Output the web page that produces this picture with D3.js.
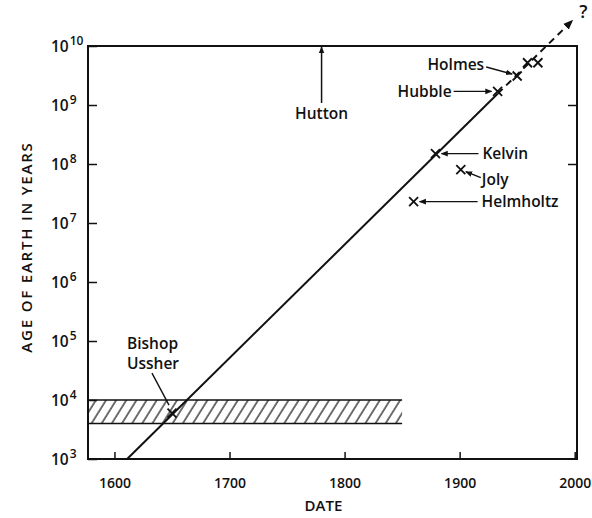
<!DOCTYPE html>
<html><head><meta charset="utf-8">
<script src="https://cdn.jsdelivr.net/npm/d3@7"></script>
<style>
body{margin:0;background:#fff}
text{font-family:"Open Sans","DejaVu Sans",sans-serif;fill:#111;font-weight:600}
</style>
</head><body>
<svg id="c" width="592" height="518"></svg>
<script>
// ---- data ----
const estimateNames = ["Bishop Ussher", "Helmholtz", "Kelvin", "Joly", "Hubble", "Holmes", "", ""];
const estimateYears = [1650, 1860, 1879, 1901, 1933, 1950, 1959, 1968];
const estimateAges  = [6000, 2.3e7, 1.5e8, 8e7, 1.7e9, 3.1e9, 5.2e9, 5.2e9];
const trendYears = [1611, 1933, 1998];
const trendAges  = [1e3, 1.55e9, 2.7e10];
const ussherBandYears = [1577, 1850];
const ussherBandAges  = [4000, 1e4];
const huttonYear = 1780;
const huttonAges = [1.08e9, 1e10];
const xTickValues = [1600, 1700, 1800, 1900, 2000];
const yTickExponents = [3, 4, 5, 6, 7, 8, 9, 10];
const rightTickExponents = [8, 9];

// ---- layout ----
const svg = d3.select("#c");
const x = d3.scaleLinear().domain([1577, 2002]).range([88, 577]);
const y = d3.scaleLog().domain([1e3, 1e10]).range([459, 46]);
const ink = "#111";

const defs = svg.append("defs");
defs.append("pattern").attr("id", "hatch").attr("patternUnits", "userSpaceOnUse")
  .attr("width", 8.6).attr("height", 20).attr("patternTransform", "rotate(32)")
  .append("line").attr("x1", 1).attr("y1", 0).attr("x2", 1).attr("y2", 20)
  .attr("stroke", ink).attr("stroke-width", 1.2);
defs.append("marker").attr("id", "ah").attr("viewBox", "0 0 10 10")
  .attr("refX", 9).attr("refY", 5).attr("markerWidth", 7).attr("markerHeight", 7)
  .attr("markerUnits", "userSpaceOnUse").attr("orient", "auto")
  .append("path").attr("d", "M0,1 L10,5 L0,9 Z").attr("fill", ink);
defs.append("marker").attr("id", "ahBig").attr("viewBox", "0 0 10 10")
  .attr("refX", 9).attr("refY", 5).attr("markerWidth", 10).attr("markerHeight", 10)
  .attr("markerUnits", "userSpaceOnUse").attr("orient", "auto")
  .append("path").attr("d", "M0,1 L10,5 L0,9 Z").attr("fill", ink);

// Ussher band
const bx0 = x(ussherBandYears[0]), bx1 = x(ussherBandYears[1]);
const by0 = y(ussherBandAges[1]), by1 = y(ussherBandAges[0]);
svg.append("rect").attr("x", bx0).attr("y", by0).attr("width", bx1 - bx0).attr("height", by1 - by0)
  .attr("fill", "url(#hatch)");
[by0, by1].forEach(v => svg.append("line").attr("x1", bx0).attr("x2", bx1).attr("y1", v).attr("y2", v)
  .attr("stroke", ink).attr("stroke-width", 1.6));

// frame
const [X0, X1] = x.range(), [Y0, Y1] = [y(1e3), y(1e10)];
svg.append("path").attr("d", `M${X0},${Y0} L${X0},${Y1} L${X1},${Y1} L${X1},${Y0} Z`)
  .attr("fill", "none").attr("stroke", ink).attr("stroke-width", 2);

// axes
const xAxis = d3.axisBottom(x).tickValues(xTickValues).tickSize(-7).tickPadding(19).tickFormat(d3.format("d"));
const gx = svg.append("g").attr("transform", `translate(0,${Y0})`).call(xAxis);
gx.select(".domain").remove();
gx.selectAll("line").attr("stroke", ink).attr("stroke-width", 1.5);
gx.selectAll("text").attr("font-size", 14).attr("fill", ink)
  .style("font-family", "'Open Sans',sans-serif").style("font-weight", 600);

const yAxis = d3.axisLeft(y).tickValues(yTickExponents.map(e => Math.pow(10, e))).tickSize(-9).tickFormat("");
const gy = svg.append("g").attr("transform", `translate(${X0},0)`).call(yAxis);
gy.select(".domain").remove();
gy.selectAll("line").attr("stroke", ink).attr("stroke-width", 1.5);
gy.selectAll(".tick").each(function(d) {
  const t = d3.select(this).append("text").attr("x", -37).attr("dy", "0.35em")
    .attr("text-anchor", "start").attr("font-size", 15.5).attr("fill", ink);
  t.append("tspan").text("10");
  t.append("tspan").attr("dy", "-0.6em").attr("dx", "1").attr("font-size", 12).text(Math.round(Math.log10(d)));
});
const yAxisR = d3.axisRight(y).tickValues(rightTickExponents.map(e => Math.pow(10, e))).tickSize(-9).tickFormat("");
const gyr = svg.append("g").attr("transform", `translate(${X1},0)`).call(yAxisR);
gyr.select(".domain").remove();
gyr.selectAll("line").attr("stroke", ink).attr("stroke-width", 1.5);

// axis titles
svg.append("text").attr("x", (X0 + X1) / 2 - 9).attr("y", 511).attr("text-anchor", "middle")
  .attr("font-size", 15).text("DATE");
svg.append("text").attr("transform", `translate(32,247) rotate(-90)`).attr("text-anchor", "middle")
  .attr("font-size", 15).attr("letter-spacing", 1.8).text("AGE OF EARTH IN YEARS");

// trend line: solid then dashed with arrow
const tp = trendYears.map((d, i) => [x(d), y(trendAges[i])]);
svg.append("line").attr("x1", tp[0][0]).attr("y1", tp[0][1]).attr("x2", tp[1][0]).attr("y2", tp[1][1])
  .attr("stroke", ink).attr("stroke-width", 2);
svg.append("line").attr("x1", tp[1][0]).attr("y1", tp[1][1]).attr("x2", tp[2][0]).attr("y2", tp[2][1])
  .attr("stroke", ink).attr("stroke-width", 2).attr("stroke-dasharray", "7,5")
  .attr("marker-end", "url(#ahBig)");
svg.append("text").attr("x", tp[2][0] + 11).attr("y", tp[2][1] - 3).attr("text-anchor", "middle")
  .attr("font-size", 18).text("?");

// estimate markers (X)
const pts = estimateYears.map((d, i) => ({name: estimateNames[i], px: x(d), py: y(estimateAges[i])}));
const s = 4.5;
pts.forEach(p => {
  svg.append("path").attr("d", `M${p.px - s},${p.py - s}L${p.px + s},${p.py + s}M${p.px - s},${p.py + s}L${p.px + s},${p.py - s}`)
    .attr("stroke", ink).attr("stroke-width", 1.8).attr("fill", "none");
});

// annotation layout (offsets in px from marker)
const layout = {
  "Holmes":    {lines: ["Holmes"], tx: -33, ty: -11, anchor: "end", a: [-31, -9, -5, -2]},
  "Hubble":    {lines: ["Hubble"], tx: -46, ty: 0, anchor: "end", a: [-44, 0, -6, 0]},
  "Kelvin":    {lines: ["Kelvin"], tx: 47, ty: 0, anchor: "start", a: [43, 0, 6, 0]},
  "Joly":      {lines: ["Joly"], tx: 21, ty: 10, anchor: "start", a: [20, 8, 5, 2]},
  "Helmholtz": {lines: ["Helmholtz"], tx: 68, ty: 0, anchor: "start", a: [64, 0, 6, 0]},
  "Bishop Ussher": {lines: ["Bishop", "Ussher"], tx: -45, ty: -70, anchor: "start", a: [-20, -40, -3, -8]}
};
pts.forEach(p => {
  const L = layout[p.name];
  if (!L) return;
  L.lines.forEach((ln, k) => svg.append("text").attr("x", p.px + L.tx).attr("y", p.py + L.ty + k * 20)
    .attr("dy", "0.35em").attr("text-anchor", L.anchor).attr("font-size", 15.5).text(ln));
  svg.append("line").attr("x1", p.px + L.a[0]).attr("y1", p.py + L.a[1])
    .attr("x2", p.px + L.a[2]).attr("y2", p.py + L.a[3])
    .attr("stroke", ink).attr("stroke-width", 1.4)
    .attr("marker-end", p.name === "Bishop Ussher" ? null : "url(#ah)");
});

// Hutton
svg.append("line").attr("x1", x(huttonYear)).attr("x2", x(huttonYear))
  .attr("y1", y(huttonAges[0])).attr("y2", y(huttonAges[1]) + 1)
  .attr("stroke", ink).attr("stroke-width", 1.5).attr("marker-end", "url(#ah)");
svg.append("text").attr("x", x(huttonYear)).attr("y", y(huttonAges[0]) + 16)
  .attr("text-anchor", "middle").attr("font-size", 15.5).text("Hutton");
</script>
</body></html>
